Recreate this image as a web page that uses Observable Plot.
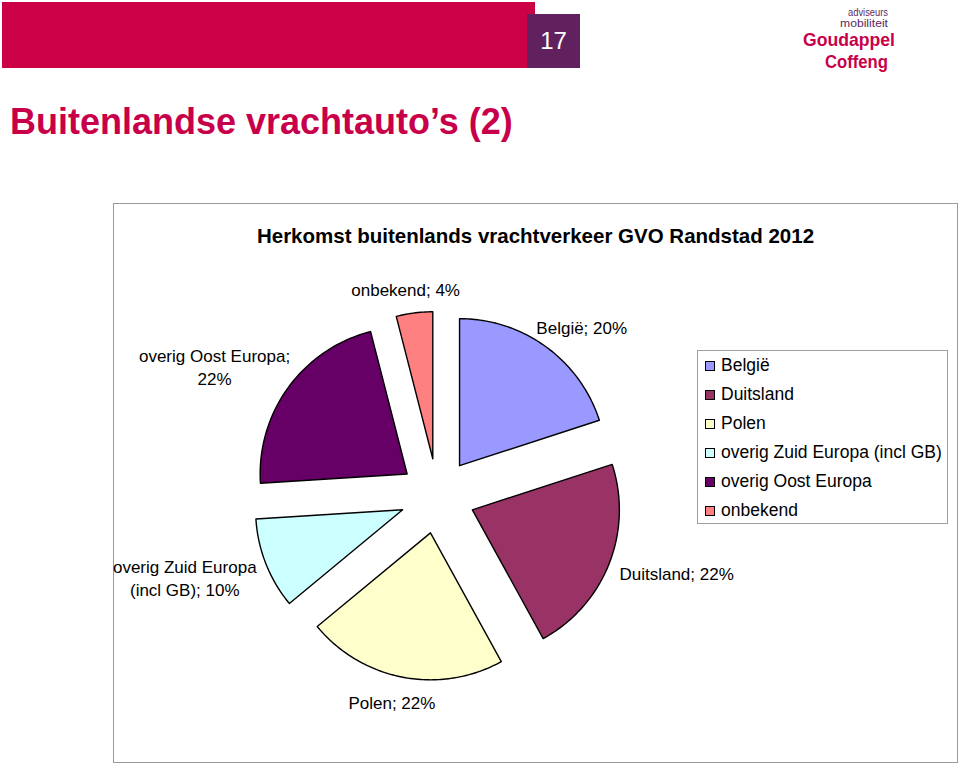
<!DOCTYPE html>
<html>
<head>
<meta charset="utf-8">
<script src="https://cdn.jsdelivr.net/npm/d3@7"></script>
<script src="https://cdn.jsdelivr.net/npm/@observablehq/plot@0.6"></script>
<style>
  html, body { margin: 0; padding: 0; background: #fff; }
  body { width: 960px; height: 764px; position: relative; overflow: hidden;
         font-family: "Liberation Sans", Arial, sans-serif; }
  #bar { position: absolute; left: 2px; top: 2px; width: 533px; height: 66px; background: #CC0046; }
  #num { position: absolute; left: 527px; top: 14px; width: 53px; height: 54px; background: #61215F;
         color: #fff; font-size: 24px; line-height: 54px; text-align: center; }
  #title { position: absolute; left: 10px; top: 104px; font-size: 36px; line-height: 36px;
           font-weight: bold; color: #C8004A; white-space: nowrap; }
  #logo { position: absolute; left: 780px; top: 0px; }
  #frame { position: absolute; left: 113px; top: 203px; width: 845px; height: 560px;
           border: 1px solid #9a9a9a; box-sizing: border-box; }
  #ctitle { position: absolute; left: 0; top: 21px; width: 100%; text-align: center;
            font-size: 20.5px; line-height: 22px; font-weight: bold; color: #000; }
  #plot { position: absolute; left: 0; top: 0; }
  #legend { position: absolute; left: 583px; top: 146px; width: 251px; height: 174px;
            border: 1px solid #a0a0a0; box-sizing: border-box; background: #fff; }
  .row { height: 29px; display: flex; align-items: center; font-size: 17.5px; color: #000; white-space: nowrap; }
  .sw { width: 8px; height: 8px; border: 1px solid #000; margin-left: 7px; margin-right: 6px; flex: none; }
</style>
</head>
<body>
<div id="bar"></div>
<div id="num"></div>
<div id="title"></div>
<svg id="logo" width="180" height="80">
  <text x="108" y="16" text-anchor="end" font-size="10" fill="#5b2a5e" textLength="40" lengthAdjust="spacingAndGlyphs" font-family="Liberation Sans, Arial">adviseurs</text>
  <text x="108" y="27" text-anchor="end" font-size="10" fill="#5b2a5e" textLength="48" lengthAdjust="spacingAndGlyphs" font-family="Liberation Sans, Arial">mobiliteit</text>
  <text x="23" y="46" font-size="19" font-weight="bold" fill="#C8004A" textLength="92" lengthAdjust="spacingAndGlyphs" font-family="Liberation Sans, Arial">Goudappel</text>
  <text x="45" y="68" font-size="19" font-weight="bold" fill="#C8004A" textLength="63" lengthAdjust="spacingAndGlyphs" font-family="Liberation Sans, Arial">Coffeng</text>
</svg>
<div id="frame">
  <div id="ctitle"></div>
  <div id="plot"></div>
  <div id="legend"></div>
</div>
<script>
// ---- data ----
const slideNumber = "17";
const slideTitle = "Buitenlandse vrachtauto’s (2)";
const chartTitle = "Herkomst buitenlands vrachtverkeer GVO Randstad 2012";
const categories = ["België", "Duitsland", "Polen", "overig Zuid Europa (incl GB)", "overig Oost Europa", "onbekend"];
const values = [20, 22, 22, 10, 22, 4];
const colors = ["#9999FF", "#993366", "#FFFFCC", "#CCFFFF", "#660066", "#FF8080"];

// ---- layout constants ----
const W = 843, H = 556;
const cx = 323, cy = 291.5, r = 147, explode = 37.5, labelR = 200;
const fontSize = 17, lineH = 23, wrapWidth = 170;
const font = `${fontSize}px "Liberation Sans", Arial, sans-serif`;

document.getElementById("num").textContent = slideNumber;
document.getElementById("title").textContent = slideTitle;
document.getElementById("ctitle").textContent = chartTitle;

// text measurement for label wrapping / placement
const ctx = document.createElement("canvas").getContext("2d");
ctx.font = font;
const measure = s => ctx.measureText(s).width;
function wrap(s) {
  const words = s.split(" ");
  const lines = [];
  let cur = "";
  for (const w of words) {
    const t = cur ? cur + " " + w : w;
    if (cur && measure(t) > wrapWidth) { lines.push(cur); cur = w; } else cur = t;
  }
  lines.push(cur);
  return lines;
}

const total = d3.sum(values);
let acc = 0;
const slices = categories.map((name, i) => {
  const a0 = acc / total * 2 * Math.PI;
  acc += values[i];
  const a1 = acc / total * 2 * Math.PI;
  return {name, value: values[i], a0, a1, mid: (a0 + a1) / 2};
});

// polygon vertices for each exploded slice
const pts = [];
for (const s of slices) {
  const ox = cx + explode * Math.sin(s.mid), oy = cy - explode * Math.cos(s.mid);
  pts.push({name: s.name, x: ox, y: oy});
  const n = Math.max(2, Math.ceil((s.a1 - s.a0) / (Math.PI / 180)));
  for (let k = 0; k <= n; k++) {
    const a = s.a0 + (s.a1 - s.a0) * k / n;
    pts.push({name: s.name, x: ox + r * Math.sin(a), y: oy - r * Math.cos(a)});
  }
}

// data labels, placed outside the slices
const labels = slices.map(s => {
  const lines = wrap(`${s.name}; ${s.value}%`);
  const w = d3.max(lines, measure);
  const h = 18 + (lines.length - 1) * lineH;
  const sn = Math.sin(s.mid), cs = Math.cos(s.mid);
  return {
    text: lines.join("\n"),
    x: cx + labelR * sn + (w / 2) * sn,
    y: cy - labelR * cs - (h / 2) * cs
  };
});

const chart = Plot.plot({
  width: W, height: H, margin: 0,
  x: {type: "linear", domain: [0, W], range: [0, W], axis: null},
  y: {type: "linear", domain: [0, H], range: [0, H], axis: null},
  color: {domain: categories, range: colors},
  style: {background: "transparent", overflow: "visible", fontFamily: '"Liberation Sans", Arial, sans-serif'},
  marks: [
    Plot.line(pts, {x: "x", y: "y", z: "name", fill: "name", stroke: "#000", strokeWidth: 1.4, curve: "linear-closed"}),
    Plot.text(labels, {x: "x", y: "y", text: "text", fontSize, lineHeight: lineH / fontSize,
      textAnchor: "middle", lineAnchor: "middle", fill: "#000"})
  ]
});
document.getElementById("plot").appendChild(chart);

// legend
const legend = document.getElementById("legend");
categories.forEach((c, i) => {
  const row = document.createElement("div");
  row.className = "row";
  const sw = document.createElement("span");
  sw.className = "sw";
  sw.style.background = colors[i];
  const tx = document.createElement("span");
  tx.textContent = c;
  row.appendChild(sw); row.appendChild(tx);
  legend.appendChild(row);
});
</script>
</body>
</html>
